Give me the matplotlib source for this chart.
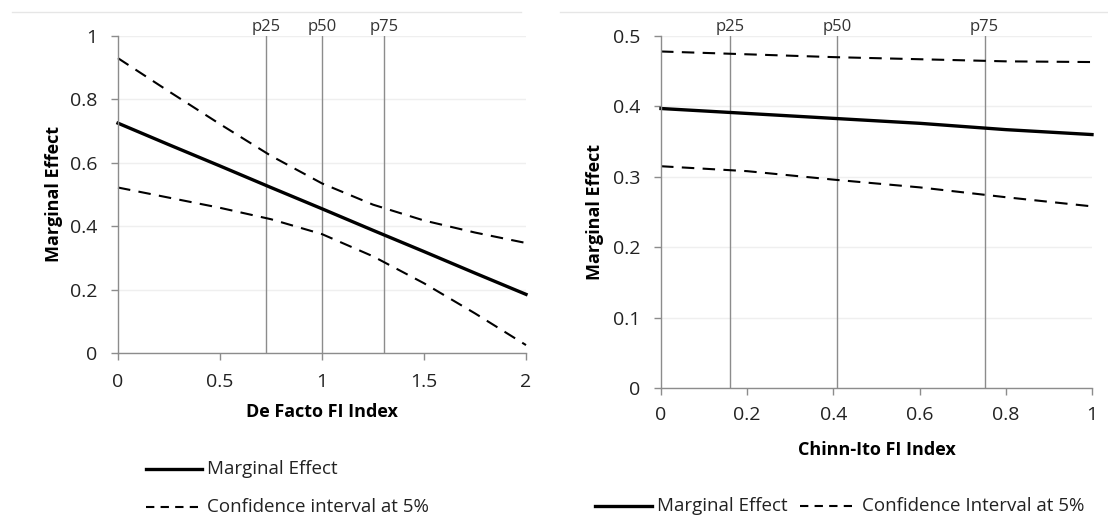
import numpy as np
import matplotlib
matplotlib.use('Agg')
import matplotlib.pyplot as plt
from matplotlib.lines import Line2D

plt.rcParams['font.family'] = ['Open Sans', 'DejaVu Sans']

# left panel: De Facto FI index
x_left = [0, 0.25, 0.5, 0.75, 1.0, 1.25, 1.5, 1.75, 2.0]
me_left = [0.725, 0.657, 0.590, 0.522, 0.455, 0.387, 0.320, 0.252, 0.185]
up_left = [0.930, 0.825, 0.722, 0.622, 0.535, 0.468, 0.418, 0.380, 0.347]
lo_left = [0.522, 0.490, 0.458, 0.422, 0.375, 0.305, 0.220, 0.125, 0.025]
pct_left = [0.724, 1.0, 1.304]

# right panel: Chinn-Ito FI index
x_right = [0, 0.2, 0.4, 0.6, 0.8, 1.0]
me_right = [0.397, 0.390, 0.383, 0.376, 0.367, 0.360]
up_right = [0.478, 0.474, 0.470, 0.467, 0.464, 0.463]
lo_right = [0.315, 0.308, 0.296, 0.285, 0.271, 0.258]
pct_right = [0.161, 0.409, 0.751]

pct_labels = ['p25', 'p50', 'p75']

fig = plt.figure(figsize=(11.08, 5.16), dpi=100)
axL = fig.add_axes([118 / 1108, 1 - 353 / 516, 408 / 1108, 317 / 516])
axR = fig.add_axes([661 / 1108, 1 - 388 / 516, 431 / 1108, 352 / 516])

# faint border line at the top
fig.add_artist(Line2D([0.011, 0.47], [1 - 12 / 516] * 2, color='#e6e6e6', lw=1))
fig.add_artist(Line2D([0.505, 1.0], [1 - 12 / 516] * 2, color='#e6e6e6', lw=1))


def style(ax, xlim, ylim, xticks, yticks, xlabel, xtl, ytl, xpad, xl_y, yl_x):
    ax.set_xlim(*xlim)
    ax.set_ylim(*ylim)
    ax.set_xticks(xticks)
    ax.set_yticks(yticks)
    ax.set_xticklabels(xtl, fontsize=14, color='#222222')
    ax.set_yticklabels(ytl, fontsize=14, color='#222222')
    for s in ['top', 'right']:
        ax.spines[s].set_visible(False)
    for s in ['left', 'bottom']:
        ax.spines[s].set_color('#8c8c8c')
        ax.spines[s].set_linewidth(1)
    ax.tick_params(axis='both', length=5, color='#8c8c8c', width=1)
    ax.tick_params(axis='x', pad=xpad)
    ax.tick_params(axis='y', pad=10)
    ax.grid(axis='y', color='#efefef', lw=1)
    ax.set_axisbelow(True)
    ax.set_xlabel(xlabel, fontsize=13, fontweight='bold', va='center')
    ax.set_ylabel('Marginal Effect', fontsize=13, fontweight='bold', va='center')
    ax.xaxis.set_label_coords(0.5, xl_y)
    ax.yaxis.set_label_coords(yl_x, 0.5)


style(axL, (0, 2), (0, 1), [0, 0.5, 1, 1.5, 2], [0, 0.2, 0.4, 0.6, 0.8, 1],
      'De Facto FI Index', ['0', '0.5', '1', '1.5', '2'],
      ['0', '0.2', '0.4', '0.6', '0.8', '1'], 9.3, -0.186, -0.158)
style(axR, (0, 1), (0, 0.5), [0, 0.2, 0.4, 0.6, 0.8, 1],
      [0, 0.1, 0.2, 0.3, 0.4, 0.5],
      'Chinn-Ito FI Index', ['0', '0.2', '0.4', '0.6', '0.8', '1'],
      ['0', '0.1', '0.2', '0.3', '0.4', '0.5'], 8, -0.176, -0.153)

for ax, xs, me, up, lo, pct in [(axL, x_left, me_left, up_left, lo_left, pct_left),
                                (axR, x_right, me_right, up_right, lo_right, pct_right)]:
    for p, lab in zip(pct, pct_labels):
        ax.axvline(p, color='#8c8c8c', lw=1)
        ax.text(p, 1.004, lab, transform=ax.get_xaxis_transform(), ha='center',
                va='bottom', fontsize=12, color='#333333')
    ax.plot(xs, me, color='black', lw=2.4, clip_on=False)
    ax.plot(xs, up, color='black', lw=1.5, ls=(0, (6, 4)), clip_on=False)
    ax.plot(xs, lo, color='black', lw=1.5, ls=(0, (6, 4)), clip_on=False)

# legends drawn in figure coordinates
def leg_item(x0, x1, tx, y, text, ls, lw):
    fig.add_artist(Line2D([x0 / 1108, x1 / 1108], [1 - y / 516] * 2,
                          color='black', lw=lw, ls=ls))
    fig.text(tx / 1108, 1 - y / 516, text, fontsize=13.5, va='center',
             ha='left', color='#222222')

leg_item(146, 202, 207, 469, 'Marginal Effect', '-', 2.4)
leg_item(146, 198, 207, 507, 'Confidence interval at 5%', (0, (4, 3)), 1.5)
leg_item(595, 652, 657, 506, 'Marginal Effect', '-', 2.4)
leg_item(800, 852, 862, 506, 'Confidence Interval at 5%', (0, (4, 3)), 1.5)

fig.savefig('out.png', dpi=100, facecolor='white')
